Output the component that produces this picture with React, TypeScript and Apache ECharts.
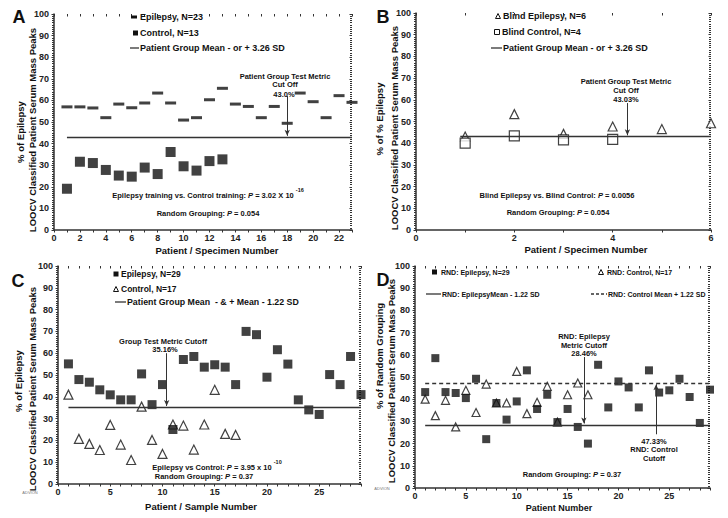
import React, { useEffect, useRef } from "react";
import * as echarts from "echarts";

// ---------- DATA ----------
const epilepsyA = [57, 57, 56.5, 52, 58.3, 56.6, 58.8, 63.4, 58.8, 50.9, 52, 60.3, 65.6, 58.3, 57.2, 52, 57.2, 49.4, 63.4, 59.4, 52, 62.2, 59.1];
const controlA = [19.1, 31.6, 31, 27.8, 25.2, 24.7, 28.9, 25.9, 36.1, 29.5, 27.5, 31.9, 32.7];
const cutoffA = 43.0;

const blindEpilepsyB = [43.1, 53.4, 44.3, 47.7, 46.5, 49.2];
const blindControlB = [40, 43.4, 41.5, 41.8];
const cutoffB = 43.03;

const epilepsyC = [55.1, 47.9, 46.7, 43.2, 40.9, 38.6, 38.6, 50.5, 36.4, 45.6, 25, 57.1, 58.5, 53.6, 54.7, 53.6, 45.6, 70, 68.5, 49, 61.6, 55, 38.6, 34, 31.9, 50.2, 45.6, 58.5, 41];
const controlC = [41, 20.7, 18.4, 15.6, 27.1, 18.1, 11, 35.5, 20.2, 13.8, 27.3, 26.8, 15.8, 27.3, 43.2, 23, 22.5];
const cutoffC = 35.16;

const epilepsyD = [43.2, 58.5, 43.2, 42.8, 40.5, 49.2, 22, 38.3, 30.8, 39, 53, 35.6, 42, 29.7, 35.6, 27.5, 20, 55.5, 36.3, 48, 45.3, 36.3, 53, 43, 44, 49.2, 41, 29.3, 44.3];
const controlD = [40, 32.6, 39.5, 27.5, 44, 34, 46.8, 38.3, 38.3, 52.5, 33.5, 38.6, 45.8, 29.7, 42, 47.3, 42];
const cutoffDEpilepsy = 28.46;
const cutoffDControl = 47.33;

const xMaxA = 23;
const xMaxB = 6;
const xMaxC = 29;
const xMaxD = 29;

// ---------- HELPERS ----------
const FF = '"Liberation Sans", Arial, sans-serif';
const font = (s: number, w = "bold", st = "") => `${st ? st + " " : ""}${w} ${s}px ${FF}`;
const INK = "#111";
const AX = "#333";

const pts = (arr: number[]) => arr.map((v, i) => [i + 1, v]);

function xAxes(g: number, max: number, every: number) {
  const base = {
    type: "value",
    gridIndex: g,
    min: 0,
    max,
    interval: 1,
    splitLine: { show: false },
  };
  return [
    {
      ...base,
      axisLine: { show: true, onZero: false, lineStyle: { color: AX, width: 1.5 } },
      axisTick: { show: true, length: 2.5, lineStyle: { color: AX, width: 1 } },
      axisLabel: {
        formatter: (v: number) => (v % every === 0 ? String(v) : ""),
        fontSize: 9,
        fontWeight: "bold",
        fontFamily: FF,
        color: "#222",
        margin: 3,
      },
    },
    {
      ...base,
      axisLine: { show: false, onZero: false },
      axisTick: { show: true, inside: true, length: 2.5, lineStyle: { color: AX, width: 1 } },
      axisLabel: { show: false },
    },
  ];
}

function yAxes(g: number) {
  const base = {
    type: "value",
    gridIndex: g,
    min: 0,
    max: 100,
    interval: 10,
    splitLine: { show: false },
  };
  return [
    {
      ...base,
      axisLine: { show: true, onZero: false, lineStyle: { color: AX, width: 1.5 } },
      axisTick: { show: true, length: 2.5, lineStyle: { color: AX } },
      minorTick: { show: true, splitNumber: 10, length: 2, lineStyle: { color: AX, width: 1 } },
      minorSplitLine: { show: false },
      axisLabel: { fontSize: 9, fontWeight: "bold", fontFamily: FF, color: "#222", margin: 5 },
    },
    {
      ...base,
      axisLine: { show: false, onZero: false },
      axisTick: { show: true, inside: true, length: 2.5, lineStyle: { color: AX } },
      minorTick: { show: true, splitNumber: 10, length: 2, lineStyle: { color: AX, width: 1 } },
      minorSplitLine: { show: false },
      axisLabel: { show: false },
    },
  ];
}

function hline(x1: number, x2: number, y: number, dashed = false) {
  return [
    { coord: [x1, y], symbol: "none" },
    { coord: [x2, y], symbol: "none", lineStyle: { color: AX, width: 1.3, type: dashed ? [4, 3] : "solid" } },
  ];
}
function arrow(x: number, y1: number, y2: number) {
  return [
    { coord: [x, y1], symbol: "none" },
    { coord: [x, y2], symbol: "arrow", symbolSize: [4, 6], lineStyle: { color: AX, width: 1 } },
  ];
}
function markLine(data: any[]) {
  return {
    silent: true,
    animation: false,
    label: { show: false },
    symbol: ["none", "none"],
    lineStyle: { color: AX, width: 1.3, type: "solid" },
    data,
  };
}

function txt(x: number, y: number, text: string, size = 7.5, align = "center", extra: any = {}) {
  return {
    type: "text",
    x,
    y,
    z: 10,
    style: {
      text,
      font: font(size),
      fill: INK,
      align,
      textAlign: align,
      verticalAlign: "middle",
      textVerticalAlign: "middle",
      ...extra,
    },
  };
}
function vtxt(x: number, y: number, text: string, size = 9.5) {
  return {
    type: "text",
    x,
    y,
    rotation: Math.PI / 2,
    z: 10,
    style: {
      text,
      font: font(size),
      fill: INK,
      align: "center",
      textAlign: "center",
      verticalAlign: "middle",
      textVerticalAlign: "middle",
    },
  };
}
function pText(x: number, y: number, parts: string) {
  return {
    type: "text",
    x,
    y,
    z: 10,
    style: {
      text: parts,
      fill: INK,
      font: font(7.5),
      align: "center",
      textAlign: "center",
      verticalAlign: "middle",
      textVerticalAlign: "middle",
      rich: {
        n: { font: font(7.5), fill: INK, lineHeight: 12, verticalAlign: "bottom" },
        i: { font: font(7.5, "bold", "italic"), fill: INK, lineHeight: 12, verticalAlign: "bottom" },
        s: { font: font(5.5), fill: INK, lineHeight: 12, verticalAlign: "top" },
      },
    },
  };
}
const sqIcon = (cx: number, cy: number, s: number, hollow = false) => ({
  type: "rect",
  shape: { x: cx - s / 2, y: cy - s / 2, width: s, height: s },
  style: hollow ? { fill: "#fff", stroke: INK, lineWidth: 1 } : { fill: INK },
  z: 10,
});
const triIcon = (cx: number, cy: number, s: number) => ({
  type: "polygon",
  shape: { points: [[cx, cy - s / 2], [cx + s / 2, cy + s / 2], [cx - s / 2, cy + s / 2]] },
  style: { fill: "#fff", stroke: INK, lineWidth: 1 },
  z: 10,
});
const lineIcon = (x1: number, x2: number, y: number, dashed = false) => ({
  type: "line",
  shape: { x1, y1: y, x2, y2: y },
  style: { stroke: AX, lineWidth: 1.3, lineDash: dashed ? [3, 2] : null },
  z: 10,
});

const hollowTri = { color: "#fff", borderColor: INK, borderWidth: 1.2 };
const hollowSq = { color: "#fff", borderColor: INK, borderWidth: 1.2 };

export default function App() {
  const ref = useRef<HTMLDivElement>(null);
  useEffect(() => {
    if (!ref.current) return;
    const chart = echarts.init(ref.current, null, { renderer: "svg" });

    const graphic: any[] = [
      // panel letters
      txt(19, 17, "A", 18),
      txt(383, 17, "B", 18),
      txt(18, 281, "C", 18),
      txt(383, 280, "D", 18),
      // ---- A legend
      { type: "rect", shape: { x: 131, y: 15.5, width: 6, height: 3 }, style: { fill: INK }, z: 10 },
      txt(140, 17, "Epilepsy, N=23", 9, "left"),
      sqIcon(135.5, 33, 5),
      txt(140, 33, "Control, N=13", 9, "left"),
      lineIcon(130, 139, 48),
      txt(140, 48, "Patient Group Mean - or + 3.26 SD", 9, "left"),
      // A annotations
      txt(285, 76, "Patient Group Test Metric"),
      txt(285, 84.5, "Cut Off"),
      txt(284, 94, "43.0%"),
      pText(208, 193, "{n|Epilepsy training vs. Control training: }{i|P}{n| = 3.02 X 10 }{s|-16}"),
      pText(208, 211, "{n|Random Grouping: }{i|P}{n| = 0.054}"),
      vtxt(20, 132, "% of Epilepsy"),
      vtxt(32, 130, "LOOCV Classified Patient Serum Mass Peaks"),
      txt(217, 250, "Patient / Specimen Number", 9.5),
      // ---- B legend
      triIcon(498, 16, 5),
      txt(503, 16, "Blind Epilepsy, N=6", 9, "left"),
      sqIcon(497, 32, 5, true),
      txt(502, 32, "Blind Control, N=4", 9, "left"),
      lineIcon(491, 502, 48),
      txt(503, 48, "Patient Group Mean - or + 3.26 SD", 9, "left"),
      txt(626, 81, "Patient Group Test Metric"),
      txt(626, 90, "Cut Off"),
      txt(626, 99, "43.03%"),
      pText(557, 193, "{n|Blind Epilepsy vs. Blind Control: }{i|P}{n| = 0.0056}"),
      pText(558, 210, "{n|Random Grouping: }{i|P}{n| = 0.054}"),
      vtxt(379, 119, "% of % Epilepsy"),
      vtxt(394, 128, "LOOCV Classified Patient Serum Mass Peaks"),
      txt(586, 249, "Patient / Specimen Number", 9.5),
      // ---- C legend
      sqIcon(116, 274, 5),
      txt(121, 274, "Epilepsy, N=29", 8.5, "left"),
      triIcon(116, 289, 5),
      txt(121, 289, "Control, N=17", 8.5, "left"),
      lineIcon(115, 126, 302),
      txt(127, 302, "Patient Group Mean  - & + Mean - 1.22 SD", 8.8, "left"),
      txt(163, 341, "Group Test Metric Cutoff"),
      txt(165, 349.5, "35.16%"),
      pText(217, 465, "{n|Epilepsy vs Control: }{i|P}{n| = 3.95 x 10 }{s|-10}"),
      pText(204, 474, "{n|Random Grouping: }{i|P}{n| = 0.37}"),
      vtxt(18, 381, "% of Epilepsy"),
      vtxt(32, 389, "LOOCV Classified Patient Serum Mass Peaks"),
      txt(201, 506, "Patient / Sample Number", 9.5),
      txt(30, 492, "ADVION", 4, "center", { fill: "#777", font: font(4, "normal") }),
      // ---- D legend
      sqIcon(434.5, 272, 5),
      txt(441, 272, "RND: Epilepsy, N=29", 7, "left"),
      triIcon(601, 272, 5),
      txt(607, 272, "RND: Control, N=17", 7, "left"),
      lineIcon(426, 441, 294),
      txt(442, 294, "RND: EpilepsyMean - 1.22 SD", 7, "left"),
      lineIcon(591, 607, 294, true),
      txt(608, 294, "RND: Control Mean + 1.22 SD", 7, "left"),
      txt(584, 336, "RND: Epilepsy"),
      txt(584, 345, "Metric Cutoff"),
      txt(584, 353.5, "28.46%"),
      txt(654, 441, "47.33%"),
      txt(654, 449.5, "RND: Control"),
      txt(654, 458, "Cutoff"),
      pText(572, 472, "{n|Random Grouping: }{i|P}{n| = 0.37}"),
      vtxt(379, 356, "% of Random Grouping"),
      vtxt(391, 381, "LOOCV Classified Patient Serum Mass Peaks"),
      txt(559, 508, "Patient Number", 9),
      txt(382, 488, "ADVION", 4, "center", { fill: "#777", font: font(4, "normal") }),
    ];

    const option: any = {
      animation: false,
      backgroundColor: "#fff",
      grid: [
        { left: 54, top: 14, width: 298, height: 216 },
        { left: 416, top: 13, width: 295, height: 217 },
        { left: 58, top: 266, width: 303, height: 218 },
        { left: 415, top: 266, width: 295, height: 222 },
      ],
      xAxis: [
        ...xAxes(0, xMaxA, 2),
        ...xAxes(1, xMaxB, 2),
        ...xAxes(2, xMaxC, 5),
        ...xAxes(3, xMaxD, 5),
      ],
      yAxis: [...yAxes(0), ...yAxes(1), ...yAxes(2), ...yAxes(3)],
      series: [
        // A
        {
          type: "scatter",
          xAxisIndex: 0,
          yAxisIndex: 0,
          symbol: "rect",
          symbolSize: [11, 3],
          itemStyle: { color: INK },
          data: pts(epilepsyA),
          markLine: markLine([hline(1, xMaxA, cutoffA), arrow(18, 62, cutoffA + 0.6)]),
        },
        {
          type: "scatter",
          xAxisIndex: 0,
          yAxisIndex: 0,
          symbol: "rect",
          symbolSize: 10,
          itemStyle: { color: INK },
          data: pts(controlA),
        },
        // B
        {
          type: "scatter",
          xAxisIndex: 2,
          yAxisIndex: 2,
          symbol: "triangle",
          symbolSize: 9,
          itemStyle: hollowTri,
          data: pts(blindEpilepsyB),
          markLine: markLine([hline(0.9, xMaxB, cutoffB), arrow(4.3, 58.5, cutoffB + 0.6)]),
        },
        {
          type: "scatter",
          xAxisIndex: 2,
          yAxisIndex: 2,
          symbol: "rect",
          symbolSize: 10,
          itemStyle: hollowSq,
          data: pts(blindControlB),
        },
        // C
        {
          type: "scatter",
          xAxisIndex: 4,
          yAxisIndex: 4,
          symbol: "triangle",
          symbolSize: 9,
          itemStyle: hollowTri,
          data: pts(controlC),
          markLine: markLine([hline(1, xMaxC, cutoffC), arrow(10.4, 60, cutoffC + 0.6)]),
        },
        {
          type: "scatter",
          xAxisIndex: 4,
          yAxisIndex: 4,
          symbol: "rect",
          symbolSize: 9,
          itemStyle: { color: INK },
          data: pts(epilepsyC),
        },
        // D
        {
          type: "scatter",
          xAxisIndex: 6,
          yAxisIndex: 6,
          symbol: "triangle",
          symbolSize: 8,
          itemStyle: hollowTri,
          data: pts(controlD),
          markLine: markLine([
            hline(1, xMaxD, cutoffDEpilepsy),
            hline(1, xMaxD, cutoffDControl, true),
            arrow(16.6, 59, cutoffDEpilepsy + 0.6),
            arrow(23.7, 24.2, cutoffDControl - 0.6),
          ]),
        },
        {
          type: "scatter",
          xAxisIndex: 6,
          yAxisIndex: 6,
          symbol: "rect",
          symbolSize: 8,
          itemStyle: { color: INK },
          data: pts(epilepsyD),
        },
      ],
      graphic,
    };

    chart.setOption(option);
    return () => chart.dispose();
  }, []);

  return (
    <div
      ref={ref}
      style={{ position: "absolute", left: 0, top: 0, width: 728, height: 518, background: "#fff" }}
    />
  );
}
